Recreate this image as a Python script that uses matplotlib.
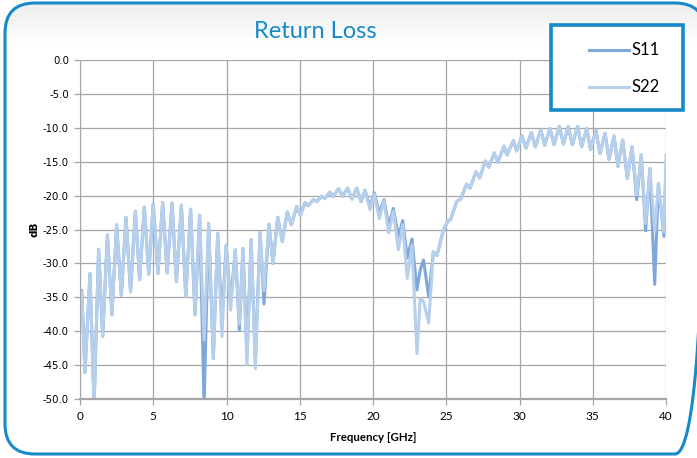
import numpy as np
import matplotlib.pyplot as plt
from matplotlib.patches import FancyBboxPatch, Rectangle
from matplotlib.lines import Line2D

# 読み取ったデータ (ピーク/ディップ)
freq = [0.0, 0.12, 0.34, 0.68, 0.96, 1.27, 1.55, 1.87, 2.18, 2.50,
        2.82, 3.14, 3.45, 3.78, 4.07, 4.39, 4.69, 5.00, 5.32, 5.64,
        5.95, 6.28, 6.58, 6.92, 7.22, 7.55, 7.85, 8.17, 8.47, 8.78,
        9.10, 9.40, 9.69, 9.98, 10.28, 10.60, 10.88, 11.12, 11.40, 11.68,
        11.97, 12.29, 12.56, 12.90, 13.17, 13.50, 13.81, 14.15, 14.43, 14.79,
        15.04, 15.36, 15.58, 15.93, 16.16, 16.50, 16.72, 17.06, 17.29, 17.65,
        17.93, 18.27, 18.57, 18.89, 19.18, 19.45, 19.80, 20.09, 20.43, 20.75,
        21.07, 21.39, 21.73, 22.03, 22.34, 22.66, 23.00, 23.22, 23.45, 23.80,
        24.12, 24.37, 24.80, 25.10, 25.30, 25.71, 25.98, 26.39, 26.62, 27.03,
        27.28, 27.67, 27.90, 28.28, 28.52, 28.94, 29.15, 29.58, 29.80, 30.17,
        30.44, 30.81, 31.08, 31.45, 31.72, 32.08, 32.36, 32.72, 33.00, 33.33,
        33.60, 33.97, 34.24, 34.59, 34.85, 35.22, 35.49, 35.84, 36.11, 36.45,
        36.72, 37.04, 37.36, 37.68, 38.00, 38.31, 38.61, 38.90, 39.23, 39.48,
        39.86, 40.00]

s22 = [-35.5, -34.2, -46.1, -31.5, -51.0, -27.9, -40.8, -25.8, -37.6, -24.3,
       -34.7, -23.2, -34.2, -22.3, -32.4, -21.7, -31.6, -21.2, -31.5, -21.0,
       -31.4, -21.1, -32.7, -21.4, -34.9, -22.0, -37.6, -22.9, -41.3, -24.1,
       -44.0, -25.6, -40.8, -27.3, -36.9, -28.0, -38.9, -27.8, -44.9, -26.5,
       -45.5, -25.4, -34.0, -24.2, -30.0, -23.2, -26.8, -22.4, -24.3, -21.6,
       -22.9, -21.0, -21.5, -20.6, -20.9, -20.1, -20.4, -19.5, -20.1, -19.0,
       -20.1, -18.9, -20.5, -18.9, -20.9, -19.2, -22.1, -19.8, -23.4, -20.8,
       -25.5, -22.3, -28.0, -24.3, -32.2, -27.3, -43.3, -35.2, -35.6, -38.8,
       -28.3, -28.8, -25.1, -23.8, -23.5, -20.9, -20.5, -18.3, -18.9, -16.5,
       -17.4, -14.9, -15.8, -13.7, -15.1, -12.7, -14.0, -11.9, -13.4, -11.2,
       -13.0, -10.7, -12.8, -10.3, -12.6, -10.1, -12.5, -9.8, -12.4, -9.8,
       -12.5, -9.8, -12.8, -10.1, -13.2, -10.4, -13.8, -10.8, -14.7, -11.2,
       -15.7, -11.8, -17.5, -12.8, -19.9, -14.0, -24.1, -16.0, -25.3, -18.2,
       -25.4, -14.0]

s11 = [-34.0, -34.0, -46.1, -31.5, -51.0, -27.9, -40.8, -25.8, -37.6, -24.3,
       -34.7, -23.2, -34.2, -22.3, -32.4, -21.7, -31.6, -21.2, -31.5, -21.0,
       -31.4, -21.1, -32.7, -21.4, -34.9, -22.0, -37.6, -22.9, -51.0, -24.1,
       -44.0, -25.6, -38.5, -27.3, -35.8, -28.0, -39.8, -27.8, -43.5, -26.5,
       -44.5, -25.4, -36.0, -24.2, -30.0, -23.2, -26.8, -22.4, -24.3, -21.6,
       -22.9, -21.0, -21.5, -20.6, -20.9, -20.1, -20.4, -19.5, -20.1, -19.0,
       -20.1, -18.9, -20.5, -18.9, -20.9, -19.2, -21.6, -19.6, -22.6, -20.6,
       -24.4, -21.9, -26.0, -23.7, -29.2, -26.4, -33.9, -31.0, -29.5, -34.9,
       -28.3, -28.8, -25.1, -23.8, -23.5, -20.9, -20.5, -18.3, -18.9, -16.5,
       -17.4, -14.9, -15.8, -13.7, -15.1, -12.7, -14.0, -11.9, -13.4, -11.2,
       -13.0, -10.7, -12.8, -10.3, -12.6, -10.1, -12.5, -9.8, -12.4, -9.8,
       -12.5, -9.8, -12.8, -10.1, -13.2, -10.4, -13.8, -10.8, -14.7, -11.2,
       -15.7, -11.8, -17.5, -12.8, -20.6, -14.0, -25.2, -16.0, -33.1, -18.2,
       -26.0, -16.0]

x_ticks = [0, 5, 10, 15, 20, 25, 30, 35, 40]
y_ticks = [0, -5, -10, -15, -20, -25, -30, -35, -40, -45, -50]

blue = '#168ac8'
c11 = '#7ea8da'
c22 = '#b6cfec'
W, H = 697, 458

fig = plt.figure(figsize=(W / 100, H / 100), dpi=100)

# 背景 (角丸の枠とグラデーション)
bg = fig.add_axes([0, 0, 1, 1])
bg.axis('off')
frame = FancyBboxPatch((5, 3), 700, 451, boxstyle='round,pad=0,rounding_size=30',
                       fc='none', ec=blue, lw=2.2, zorder=3)
bg.add_patch(frame)
grad = np.ones((H, 2))
top = np.linspace(0.92, 1.0, 45)
grad[:45, :] = top[:, None]
img = bg.imshow(grad, extent=[0, W, H, 0], cmap='gray', vmin=0, vmax=1,
                aspect='auto', zorder=1)
img.set_clip_path(frame)
bg.set_xlim(0, W)
bg.set_ylim(H, 0)

# メインのグラフ
ax = fig.add_axes([80 / W, 1 - 399 / H, 586 / W, 339 / H])
ax.set_facecolor('white')
ax.plot(freq, s11, color=c11, lw=2.2, solid_joinstyle='round', label='S11')
ax.plot(freq, s22, color=c22, lw=2.2, solid_joinstyle='round', label='S22')
ax.set_xlim(0, 40)
ax.set_ylim(-50, 0)
ax.set_xticks(x_ticks)
ax.set_xticklabels([str(v) for v in x_ticks], fontfamily='Lato', fontsize=8.5)
ax.set_yticks(y_ticks)
ax.set_yticklabels([f'{v:.1f}' for v in y_ticks], fontfamily='DejaVu Sans', fontsize=7.3)
ax.grid(True, color='#a6a6a6', lw=0.9)
ax.set_axisbelow(True)
for s in ['top', 'right']:
    ax.spines[s].set_visible(False)
ax.spines['left'].set_color('#a6a6a6')
ax.spines['bottom'].set_color('#a6a6a6')
ax.spines['bottom'].set_linewidth(1.6)
ax.tick_params(axis='both', colors='#a6a6a6', length=4.5, width=0.9, labelcolor='black')
ax.tick_params(axis='x', pad=4)
ax.set_xlabel('Frequency [GHz]', fontfamily='Lato', fontweight='bold', fontsize=8.3, labelpad=7)
ax.set_ylabel('dB', fontfamily='DejaVu Sans', fontweight='bold', fontsize=7.5, labelpad=2)

# タイトルと凡例
ov = fig.add_axes([0, 0, 1, 1], zorder=5)
ov.set_xlim(0, W)
ov.set_ylim(H, 0)
ov.axis('off')
ov.patch.set_alpha(0)
ov.text(315, 32, 'Return Loss', color=blue, fontfamily='Lato', fontsize=17,
        ha='center', va='center')
ov.add_patch(Rectangle((551, 25), 132, 85, fc='white', ec=blue, lw=2.6))
for yy, col, lab in [(50, c11, 'S11'), (87, c22, 'S22')]:
    ov.add_line(Line2D([589, 629], [yy, yy], color=col, lw=2.2))
    ov.text(632, yy, lab, fontfamily='Lato', fontsize=12, va='center', ha='left')

fig.savefig('out.png', dpi=100)
